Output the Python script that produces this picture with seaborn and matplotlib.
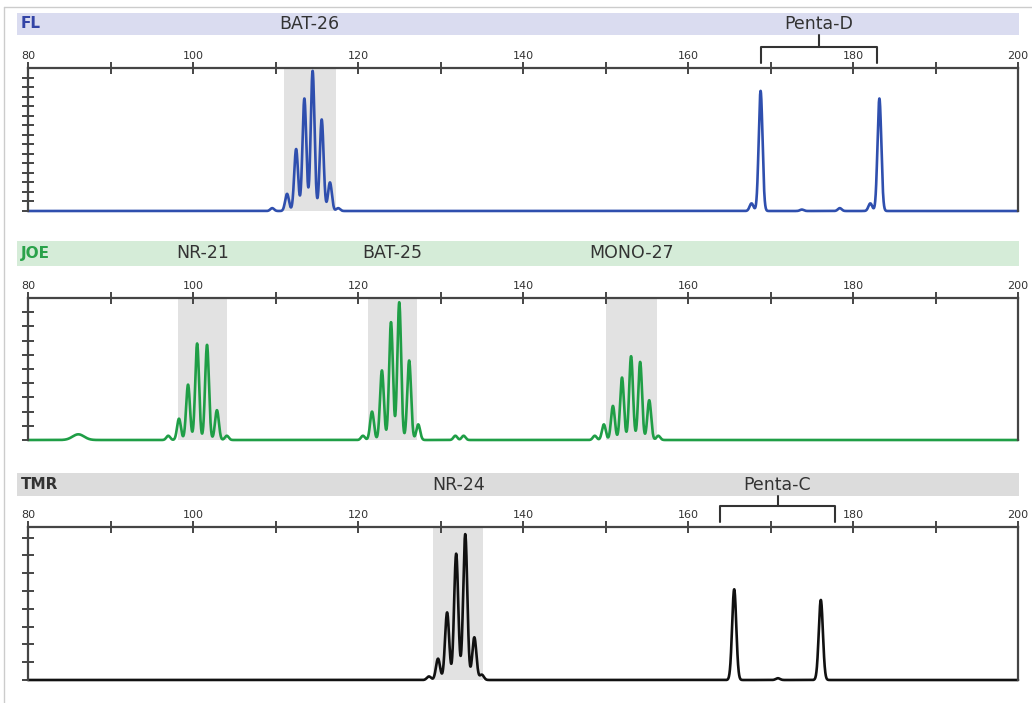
import numpy as np
import pandas as pd
import matplotlib
matplotlib.use("Agg")
import matplotlib.pyplot as plt
import seaborn as sns
from matplotlib.patches import Rectangle
from matplotlib.lines import Line2D

# ==========================
# Data
# (fragment size in bp, peak height in y-tick units of each panel)
# ==========================
fl_pos = [109.6, 111.4, 112.5, 113.5, 114.5, 115.6, 116.6, 117.6,
          167.7, 168.8, 173.8, 178.4, 182.1, 183.2]
fl_height = [0.3, 1.8, 6.5, 11.8, 14.7, 9.6, 3.0, 0.3,
             0.8, 12.6, 0.15, 0.3, 0.8, 11.8]

joe_pos = [97.0, 98.3, 99.4, 100.5, 101.7, 102.9, 104.1,
           120.6, 121.7, 122.9, 124.0, 125.0, 126.2, 127.3,
           131.8, 132.8,
           148.7, 149.8, 150.9, 152.0, 153.1, 154.2, 155.3, 156.4]
joe_height = [0.3, 1.5, 3.9, 6.8, 6.7, 2.1, 0.3,
              0.3, 2.0, 4.9, 8.3, 9.7, 5.6, 1.1,
              0.3, 0.3,
              0.3, 1.1, 2.4, 4.4, 5.9, 5.5, 2.8, 0.3]
joe_bump_pos = [86.1]
joe_bump_height = [0.4]

tmr_pos = [128.6, 129.7, 130.8, 131.9, 133.0, 134.1, 135.0,
           165.6, 170.9, 176.1]
tmr_height = [0.2, 1.2, 3.8, 7.1, 8.2, 2.4, 0.3,
              5.1, 0.1, 4.5]

# marker bins: (name, start bp, end bp)
fl_bins = [("BAT-26", 111.0, 117.3)]
fl_brackets = [("Penta-D", 168.9, 182.9)]
joe_bins = [("NR-21", 98.2, 104.1), ("BAT-25", 121.2, 127.2), ("MONO-27", 150.0, 156.2)]
joe_brackets = []
tmr_bins = [("NR-24", 129.1, 135.2)]
tmr_brackets = [("Penta-C", 163.9, 177.8)]

channels = ["FL", "JOE", "TMR"]
y_tops = [15, 10, 8.6]

# ==========================
# Style / layout
# ==========================
sns.set_style("white")
plt.rcParams['font.family'] = ['DejaVu Sans']

FW, FH = 1032, 703
fig = plt.figure(figsize=(FW / 100, FH / 100), dpi=100)

# pixel layout: (band top, band bottom, axis top, baseline)
layout = [(13, 35, 68, 211), (241, 266, 298, 440), (473, 496, 527, 680)]
AX_L, AX_R = 28, 1018

trace_colors = ["#2f4fae", "#1f9e46", "#111111"]
band_colors = ["#dadcf0", "#d5ecd8", "#dcdcdc"]
label_colors = ["#3344a6", "#2aa24a", "#333333"]
spine_col = "#454545"

x = np.linspace(80, 200, 8001)


def trace(pos, height, sigma=0.23):
    y = np.zeros_like(x)
    for p, h in zip(pos, height):
        y += h * np.exp(-0.5 * ((x - p) / sigma) ** 2)
    return y


signals = [
    trace(fl_pos, fl_height),
    trace(joe_pos, joe_height) + trace(joe_bump_pos, joe_bump_height, sigma=0.7),
    trace(tmr_pos, tmr_height, sigma=0.25),
]
bins_all = [fl_bins, joe_bins, tmr_bins]
brackets_all = [fl_brackets, joe_brackets, tmr_brackets]

for i, ch in enumerate(channels):
    band_t, band_b, ax_t, ax_b = layout[i]

    # ----- main trace axes -----
    ax = fig.add_axes([AX_L / FW, 1 - ax_b / FH, (AX_R - AX_L) / FW, (ax_b - ax_t) / FH])
    for name, s, e in bins_all[i]:
        ax.axvspan(s, e, color="#e2e2e2", lw=0, zorder=0)

    df = pd.DataFrame({"size": x, "rfu": signals[i]})
    sns.lineplot(data=df, x="size", y="rfu", ax=ax, color=trace_colors[i],
                 lw=1.9, estimator=None, sort=False)
    for ln in ax.lines:
        ln.set_clip_on(False)

    ax.set_xlim(80, 200)
    ax.set_ylim(0, y_tops[i])
    ax.set_xlabel("")
    ax.set_ylabel("")
    ax.xaxis.tick_top()
    ax.set_xticks(range(80, 201, 20))
    ax.set_xticks(range(90, 200, 10), minor=True)
    ax.set_yticks(np.arange(0, int(np.ceil(y_tops[i]))))
    ax.yaxis.set_ticks_position("left")
    ax.tick_params(axis="x", which="both", direction="inout", length=8, width=1.4,
                   color=spine_col, labelsize=8, pad=1, labelcolor="#333333")
    ax.tick_params(axis="y", direction="inout", length=8, width=1.4,
                   color=spine_col, labelleft=False)
    for side in ["top", "left", "right"]:
        ax.spines[side].set_color(spine_col)
        ax.spines[side].set_linewidth(1.6)
    ax.spines["bottom"].set_visible(False)

    # ----- header band axes (y in px above the axis line) -----
    H = ax_t - band_t
    hx = fig.add_axes([AX_L / FW, 1 - ax_t / FH, (AX_R - AX_L) / FW, H / FH])
    hx.set_xlim(80, 200)
    hx.set_ylim(0, H)
    hx.axis("off")
    hx.patch.set_alpha(0)
    b_lo = ax_t - band_b
    hx.add_patch(Rectangle((78.7, b_lo), 121.4, H - b_lo, color=band_colors[i],
                           lw=0, clip_on=False))
    yc = (b_lo + H) / 2
    hx.text(79.1, yc, ch, ha="left", va="center", fontsize=11, fontweight="bold",
            color=label_colors[i])
    for name, s, e in bins_all[i]:
        hx.text((s + e) / 2, yc, name, ha="center", va="center", fontsize=12.5,
                color="#333333")
    for name, s, e in brackets_all[i]:
        m = (s + e) / 2
        hx.plot([s, s, e, e], [5, 21, 21, 5], color="#333333", lw=1.5, clip_on=False)
        hx.plot([m, m], [21, b_lo], color="#333333", lw=1.5, clip_on=False)
        hx.text(m, yc, name, ha="center", va="center", fontsize=12.5, color="#333333")

# thin outer frame (top / left)
fig.add_artist(Line2D([4 / FW, 4 / FW], [0, 1 - 7 / FH], transform=fig.transFigure,
                      color="#cccccc", lw=1))
fig.add_artist(Line2D([4 / FW, 1], [1 - 7 / FH, 1 - 7 / FH], transform=fig.transFigure,
                      color="#cccccc", lw=1))

fig.savefig("out.png", dpi=100)
